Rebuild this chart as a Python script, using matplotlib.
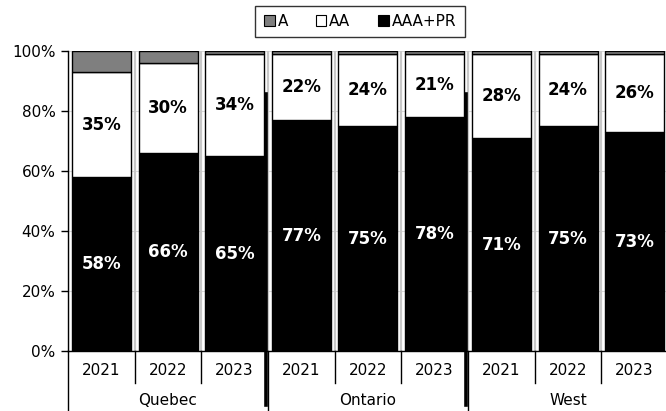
import matplotlib
matplotlib.use("Agg")
import matplotlib.pyplot as plt
from matplotlib.patches import Patch
from matplotlib.lines import Line2D
import matplotlib.transforms as mtransforms

groups = ["Quebec", "Ontario", "West"]
years = ["2021", "2022", "2023"]
aaa_pr = [58, 66, 65, 77, 75, 78, 71, 75, 73]
aa = [35, 30, 34, 22, 24, 21, 28, 24, 26]
a = [7, 4, 1, 1, 1, 1, 1, 1, 1]
series_names = ["A", "AA", "AAA+PR"]
colors = {"A": "#7f7f7f", "AA": "#ffffff", "AAA+PR": "#000000"}
yticks = [0, 20, 40, 60, 80, 100]

W, H = 666, 411
fig = plt.figure(figsize=(W / 100, H / 100), dpi=100)
left, right, bottom, top = 68, 668, 351, 51
ax = fig.add_axes([left / W, (H - bottom) / H, (right - left) / W, (bottom - top) / H])

n = len(aaa_pr)
x = list(range(n))
width = 0.885

# light gray separators between bars
for b in [i - 0.5 for i in range(n + 1)]:
    ax.axvline(b, color="#c8c8c8", lw=1.6, zorder=0.5)

for yv in yticks[1:]:
    ax.axhline(yv, color="#d9d9d9", lw=0.8, zorder=0)

bottoms = [0] * n
for name, vals in [("AAA+PR", aaa_pr), ("AA", aa), ("A", a)]:
    ax.bar(x, vals, width, bottom=bottoms, color=colors[name], edgecolor="black",
           linewidth=1.0, zorder=2)
    if name != "A":
        for i, v in enumerate(vals):
            ax.text(i, bottoms[i] + v / 2, f"{v}%", ha="center", va="center",
                    fontsize=12, fontweight="bold",
                    color="white" if name == "AAA+PR" else "black", zorder=3)
    bottoms = [b + v for b, v in zip(bottoms, vals)]

ax.set_xlim(-0.5, n - 0.5)
ax.set_ylim(0, 100)
ax.set_yticks(yticks)
ax.set_yticklabels([f"{v}%" for v in yticks], fontsize=11)
ax.tick_params(axis="y", length=5, width=1, direction="out", pad=4)
ax.set_xticks([])
for s in ["top", "right"]:
    ax.spines[s].set_visible(False)
ax.spines["left"].set_linewidth(1)
ax.spines["bottom"].set_linewidth(1)

trans = mtransforms.blended_transform_factory(ax.transData, fig.transFigure)
def fy(py):
    return (H - py) / H

# year labels and dividers
for i in range(n):
    ax.text(i, fy(370), years[i % 3], transform=trans, ha="center", va="center", fontsize=11)
for b in range(n + 1):
    xb = b - 0.5
    if b % 3 == 0:
        y_end = fy(411)
    else:
        y_end = fy(383)
    fig.add_artist(Line2D([xb, xb], [fy(351), y_end], transform=trans, color="black", lw=1))
for g, name in enumerate(groups):
    ax.text(g * 3 + 1, fy(400), name, transform=trans, ha="center", va="center", fontsize=11)

# thick black lines near group boundaries
for gb in [2.5, 5.5]:
    xb = gb - 0.035
    fig.add_artist(Line2D([xb, xb], [fy(94), fy(405)], transform=trans, color="black",
                          lw=2.6, zorder=5))

handles = [Patch(facecolor=colors[s], edgecolor="black", linewidth=0.8) for s in series_names]
fig.legend(handles, series_names, loc="center", bbox_to_anchor=(360 / W, fy(21.5)),
           ncol=3, frameon=True, fancybox=False, edgecolor="black", fontsize=11,
           handlelength=0.7, handleheight=0.7, handletextpad=0.2, columnspacing=1.8,
           borderpad=0.55, borderaxespad=0)

fig.savefig("out.png", dpi=100)
